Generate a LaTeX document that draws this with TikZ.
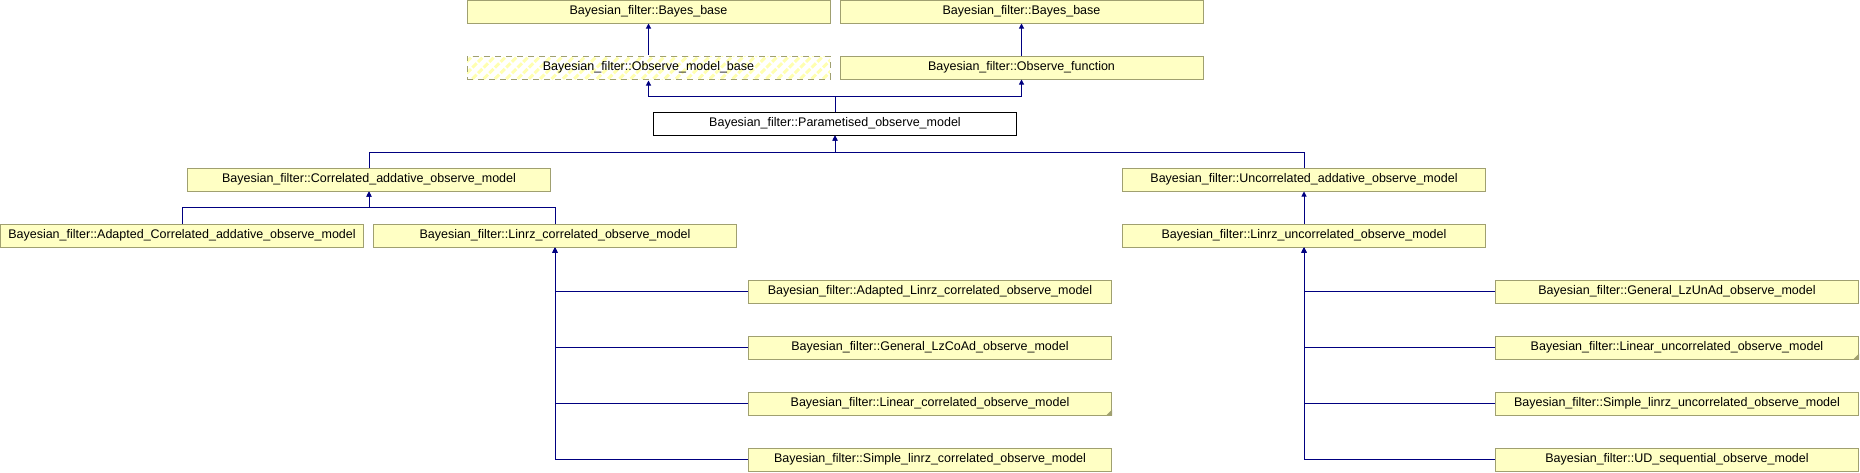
\documentclass[tikz,border=0pt]{standalone}
\usepackage{fontspec}
\setmainfont{Liberation Sans}
\usepackage{xcolor}
\usepackage{tikz}
\usetikzlibrary{arrows.meta,patterns.meta}
\definecolor{BoxFill}{HTML}{FFFFC4}
\definecolor{BoxLine}{HTML}{A0A070}
\definecolor{EdgeBlue}{HTML}{000080}
\definecolor{HatchYellow}{HTML}{FFFFB0}

\begin{document}
\begin{tikzpicture}[x=1pt,y=-1pt,
          every node/.style={font=\fontsize{12.5}{15}\selectfont},
          cls/.style={draw=BoxLine, fill=BoxFill, line width=1pt,
            minimum width=363pt, minimum height=23pt, inner sep=0pt},
          inh/.style={{Triangle[length=5pt,width=5pt]}-,EdgeBlue,line width=1pt}]
        \useasboundingbox (0,0) rectangle (1860,472);
        % base classes
        \node[cls] (bayesA) at (648.5,11.5) {Bayesian\_filter::Bayes\_base};
        \node[cls] (bayesB) at (1021.5,11.5) {Bayesian\_filter::Bayes\_base};
        \node[draw=BoxLine, line width=1pt, dash pattern=on 6pt off 5pt,
          pattern={Lines[angle=45,distance=8pt,line width=3pt]},
          pattern color=HatchYellow,
          minimum width=363pt, minimum height=23pt, inner sep=0pt]
        (obsbase) at (648.5,67.5) {Bayesian\_filter::Observe\_model\_base};
        \node[cls] (obsfun) at (1021.5,67.5) {Bayesian\_filter::Observe\_function};
        \node[cls, draw=black, fill=white]
        (param) at (835,123.5) {Bayesian\_filter::Parametised\_observe\_model};
        % addative models
        \node[cls] (corradd) at (369,179.5) {Bayesian\_filter::Correlated\_addative\_observe\_model};
        \node[cls] (uncorradd) at (1304,179.5) {Bayesian\_filter::Uncorrelated\_addative\_observe\_model};
        \node[cls] (adcorradd) at (182,235.5) {Bayesian\_filter::Adapted\_Correlated\_addative\_observe\_model};
        \node[cls] (lincorr) at (555,235.5) {Bayesian\_filter::Linrz\_correlated\_observe\_model};
        \node[cls] (linuncorr) at (1304,235.5) {Bayesian\_filter::Linrz\_uncorrelated\_observe\_model};
        % correlated leaves
        \node[cls] (adlincorr) at (930,291.5) {Bayesian\_filter::Adapted\_Linrz\_correlated\_observe\_model};
        \node[cls] (genlzco) at (930,347.5) {Bayesian\_filter::General\_LzCoAd\_observe\_model};
        \node[cls] (lincorrobs) at (930,403.5) {Bayesian\_filter::Linear\_correlated\_observe\_model};
        \node[cls] (simlincorr) at (930,459.5) {Bayesian\_filter::Simple\_linrz\_correlated\_observe\_model};
        % uncorrelated leaves
        \node[cls] (genlzun) at (1677,291.5) {Bayesian\_filter::General\_LzUnAd\_observe\_model};
        \node[cls] (linuncobs) at (1677,347.5) {Bayesian\_filter::Linear\_uncorrelated\_observe\_model};
        \node[cls] (simlinun) at (1677,403.5) {Bayesian\_filter::Simple\_linrz\_uncorrelated\_observe\_model};
        \node[cls] (udseq) at (1677,459.5) {Bayesian\_filter::UD\_sequential\_observe\_model};
        % folded corners
        \fill[BoxLine] (lincorrobs.south east) -- ++(-6,0) -- ++(6,-6) -- cycle;
        \fill[BoxLine] (linuncobs.south east) -- ++(-6,0) -- ++(6,-6) -- cycle;
        % inheritance
        \draw[inh] (bayesA.south) -- (obsbase.north);
        \draw[inh] (bayesB.south) -- (obsfun.north);
        \draw[inh] (obsbase.south) |- (param.north |- 0,96) -- (param.north);
        \draw[inh] (obsfun.south) |- (param.north |- 0,96) -- (param.north);
        \draw[inh] (param.south) -- (param.south |- 0,152) -| (corradd.north);
        \draw[inh] (param.south) -- (param.south |- 0,152) -| (uncorradd.north);
        \draw[inh] (corradd.south) -- (corradd.south |- 0,207.5) -| (adcorradd.north);
        \draw[inh] (corradd.south) -- (corradd.south |- 0,207.5) -| (lincorr.north);
        \draw[inh] (uncorradd.south) -- (linuncorr.north);
        \foreach \leaf in {adlincorr,genlzco,lincorrobs,simlincorr}
          \draw[inh] (lincorr.south) |- (\leaf.west);
        \foreach \leaf in {genlzun,linuncobs,simlinun,udseq}
          \draw[inh] (linuncorr.south) |- (\leaf.west);
      \end{tikzpicture}
\end{document}
